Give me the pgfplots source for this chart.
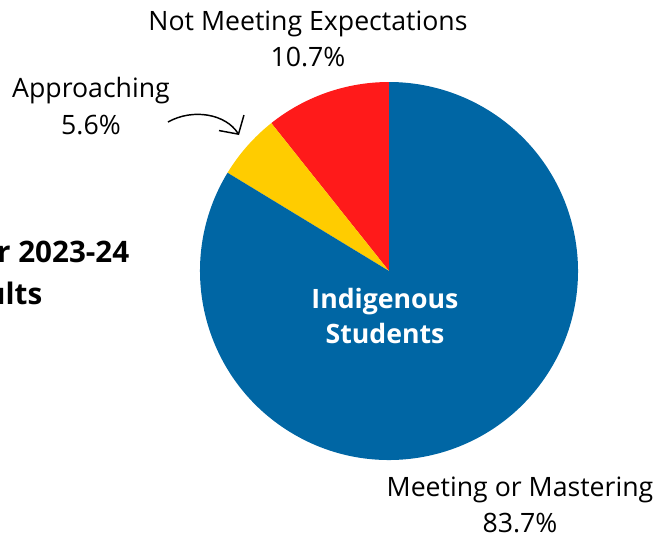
\documentclass[border=0pt]{standalone}
\usepackage{fontspec}
\setmainfont{Open Sans}
\usepackage{pgfplots}
\usepackage{pgfplotstable}
\pgfplotsset{compat=1.18}
\usetikzlibrary{arrows.meta}

\definecolor{pieBlue}{HTML}{0066A4}
\definecolor{pieRed}{HTML}{FF1A1A}
\definecolor{pieYellow}{HTML}{FFCC00}

% share of students per level, in percent
\pgfplotstableread{
level        value
NotMeeting   10.7
Approaching  5.6
Meeting      83.7
}\piedata
\pgfplotstablegetelem{0}{value}\of\piedata \let\vA\pgfplotsretval%
\pgfplotstablegetelem{1}{value}\of\piedata \let\vB\pgfplotsretval%
\pgfplotstablegetelem{2}{value}\of\piedata \let\vC\pgfplotsretval%
\pgfmathsetmacro\aA{90}%
\pgfmathsetmacro\aB{\aA+3.6*\vA}%
\pgfmathsetmacro\aC{\aB+3.6*\vB}%
\pgfmathsetmacro\aD{\aC+3.6*\vC}%
\def\R{141.75pt}% 189 px

\begin{document}
\begin{tikzpicture}
\useasboundingbox (0,0) rectangle (498pt,402pt);
\clip (0,0) rectangle (498pt,402pt);
\begin{axis}[
    at={(0,0)}, anchor=south west,
    width=498pt, height=402pt, scale only axis,
    xmin=0, xmax=664, ymin=0, ymax=536, y dir=reverse,
    hide axis, clip=false,
]
\fill[pieRed]    (axis cs:389,271) -- ++(\aA:\R) arc[start angle=\aA, end angle=\aB, radius=\R] -- cycle;
\fill[pieYellow] (axis cs:389,271) -- ++(\aB:\R) arc[start angle=\aB, end angle=\aC, radius=\R] -- cycle;
\fill[pieBlue]   (axis cs:389,271) -- ++(\aC:\R) arc[start angle=\aC, end angle=\aD, radius=\R] -- cycle;

\node[align=center, text=white, font=\bfseries\fontsize{20}{26}\selectfont]
    at (axis cs:385,316) {Indigenous\\Students};

\node[align=center, font=\fontsize{20}{27.5}\selectfont]
    at (axis cs:308,39) {Not Meeting Expectations\\\vA\%};
\node[align=center, font=\fontsize{20}{27.5}\selectfont]
    at (axis cs:91,106) {Approaching\\\vB\%};
\node[align=center, font=\fontsize{20}{27.5}\selectfont]
    at (axis cs:520,505) {Meeting or Mastering\\\vC\%};

\node[anchor=east, font=\bfseries\fontsize{22.2}{30}\selectfont]
    at (axis cs:134,251) {Results for 2023-24};
\node[anchor=east, font=\bfseries\fontsize{22.2}{30}\selectfont]
    at (axis cs:47,293) {Results};

\draw[line width=1.1pt, -{Straight Barb[length=10pt, width=22pt]}]
    (axis cs:168,122) .. controls (axis cs:193,108) and (axis cs:226,114) .. (axis cs:239,135);
\end{axis}
\end{tikzpicture}
\end{document}
